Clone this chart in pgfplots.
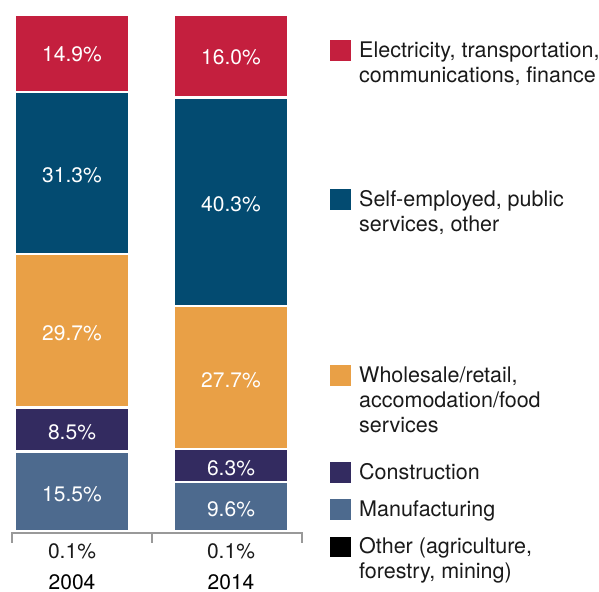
\documentclass[border=0pt]{standalone}
\usepackage{pgfplots}
\pgfplotsset{compat=1.18}
\usepackage{fontspec}
\setmainfont{TeX Gyre Heros}
\definecolor{cElec}{HTML}{C41F3E}
\definecolor{cSelf}{HTML}{034B71}
\definecolor{cWhole}{HTML}{E9A046}
\definecolor{cCons}{HTML}{332B60}
\definecolor{cManu}{HTML}{4D6A8E}
\definecolor{axgray}{HTML}{999999}
\definecolor{txtc}{HTML}{1A1A1A}
\tikzset{barlab/.style={text=white, yshift=-2.5bp, font=\fontsize{21bp}{25bp}\selectfont},
  leg/.style={anchor=base west, inner sep=0pt, text=txtc, font=\fontsize{21.5bp}{25bp}\selectfont},
  xl/.style={anchor=base, inner sep=0pt, text=txtc, font=\fontsize{21bp}{25bp}\selectfont}}
\begin{document}
\begin{tikzpicture}
\path[use as bounding box] (0bp,0bp) rectangle (599bp,592bp);
\begin{axis}[
  at={(12bp,58.5bp)}, anchor=south west,
  scale only axis, width=290bp, height=518.5bp,
  xmin=0, xmax=290, ymin=-0.3, ymax=100,
  enlargelimits=false, clip=false,
  ybar stacked, bar width=114.5,
  hide axis,
]
\addplot[fill=black, draw=white, line width=2.5bp] coordinates {(60,0.1) (219,0.1)};
\addplot[fill=cManu, draw=white, line width=2.5bp] coordinates {(60,15.5) (219,9.6)};
\addplot[fill=cCons, draw=white, line width=2.5bp] coordinates {(60,8.5) (219,6.3)};
\addplot[fill=cWhole, draw=white, line width=2.5bp] coordinates {(60,29.7) (219,27.7)};
\addplot[fill=cSelf, draw=white, line width=2.5bp] coordinates {(60,31.3) (219,40.3)};
\addplot[fill=cElec, draw=white, line width=2.5bp] coordinates {(60,14.9) (219,16.0)};
\coordinate (a1) at (axis cs:60,7.85);
\coordinate (a2) at (axis cs:60,19.85);
\coordinate (a3) at (axis cs:60,38.95);
\coordinate (a4) at (axis cs:60,69.45);
\coordinate (a5) at (axis cs:60,92.55);
\coordinate (b1) at (axis cs:219,4.9);
\coordinate (b2) at (axis cs:219,12.85);
\coordinate (b3) at (axis cs:219,29.85);
\coordinate (b4) at (axis cs:219,63.85);
\coordinate (b5) at (axis cs:219,92.0);
\end{axis}
\node[barlab] at (a1) {15.5\%};
\node[barlab] at (a2) {8.5\%};
\node[barlab] at (a3) {29.7\%};
\node[barlab] at (a4) {31.3\%};
\node[barlab, yshift=2bp] at (a5) {14.9\%};
\node[barlab] at (b1) {9.6\%};
\node[barlab] at (b2) {6.3\%};
\node[barlab] at (b3) {27.7\%};
\node[barlab] at (b4) {40.3\%};
\node[barlab, yshift=2bp] at (b5) {16.0\%};
% axis line and ticks
\draw[axgray, line width=2bp] (12bp,49bp) -- (12bp,58.5bp) -- (302bp,58.5bp) -- (302bp,49bp);
\draw[axgray, line width=2bp] (152bp,49bp) -- (152bp,58.5bp);
% x labels
\node[xl] at (72bp,34bp) {0.1\%};
\node[xl] at (231bp,34bp) {0.1\%};
\node[xl, text=black] at (72bp,3bp) {2004};
\node[xl, text=black] at (231bp,3bp) {2014};
% legend
\fill[cElec] (330bp,531bp) rectangle (351bp,552bp);
\fill[cSelf] (330bp,382bp) rectangle (351bp,403bp);
\fill[cWhole] (330bp,206bp) rectangle (351bp,227bp);
\fill[cCons] (330bp,109bp) rectangle (351bp,130bp);
\fill[cManu] (330bp,72bp) rectangle (351bp,93bp);
\fill[black] (330bp,35bp) rectangle (351bp,55bp);
\node[leg] at (359bp,534bp) {Electricity, transportation,};
\node[leg] at (359bp,509bp) {communications, finance};
\node[leg] at (359bp,385bp) {Self-employed, public};
\node[leg] at (359bp,360bp) {services, other};
\node[leg] at (359bp,209bp) {Wholesale/retail,};
\node[leg] at (359bp,184bp) {accomodation/food};
\node[leg] at (359bp,159bp) {services};
\node[leg] at (359bp,112bp) {Construction};
\node[leg] at (359bp,75bp) {Manufacturing};
\node[leg] at (359bp,39bp) {Other (agriculture,};
\node[leg] at (359bp,14bp) {forestry, mining)};
\end{tikzpicture}
\end{document}
